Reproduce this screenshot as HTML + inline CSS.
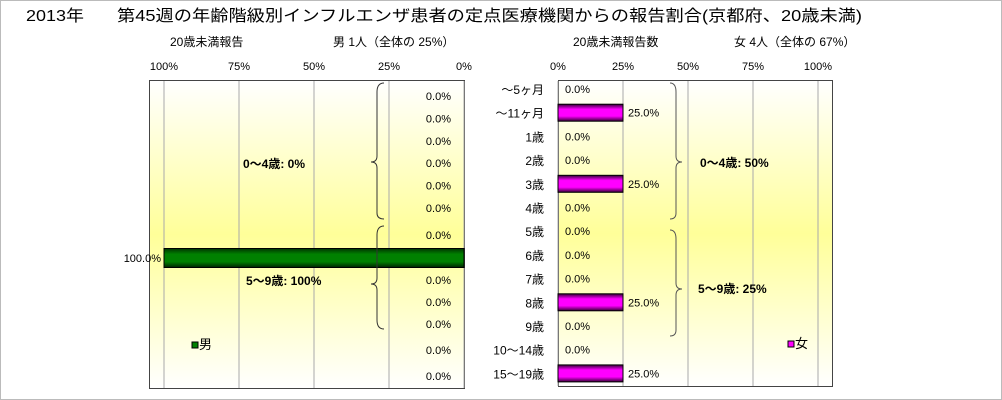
<!DOCTYPE html>
<html><head><meta charset="utf-8"><style>
html,body{margin:0;padding:0;background:#fff;}
svg{display:block;font-family:"Liberation Sans","Noto Sans CJK JP",sans-serif;}
</style></head><body>
<svg id="c" width="1002" height="400" xmlns="http://www.w3.org/2000/svg">
<defs>
<linearGradient id="bg" x1="0" y1="0" x2="0" y2="1">
<stop offset="0" stop-color="#ffffff"/><stop offset="0.5" stop-color="#ffff99"/><stop offset="1" stop-color="#ffffff"/>
</linearGradient>
<linearGradient id="gm" x1="0" y1="0" x2="0" y2="1">
<stop offset="0" stop-color="#003300"/><stop offset="0.3" stop-color="#008000"/><stop offset="0.7" stop-color="#008000"/><stop offset="1" stop-color="#002200"/>
</linearGradient>
<linearGradient id="gf" x1="0" y1="0" x2="0" y2="1">
<stop offset="0" stop-color="#330033"/><stop offset="0.3" stop-color="#ff00ff"/><stop offset="0.7" stop-color="#ff00ff"/><stop offset="1" stop-color="#330033"/>
</linearGradient>
</defs>
<rect x="0.5" y="0.5" width="1001" height="399" fill="#fff" stroke="#bbb"/>
<text x="26" y="21" font-size="16" textLength="58" lengthAdjust="spacingAndGlyphs">2013年</text>
<text x="117" y="21" font-size="16" textLength="745" lengthAdjust="spacingAndGlyphs">第45週の年齢階級別インフルエンザ患者の定点医療機関からの報告割合(京都府、20歳未満)</text>
<text x="170" y="46" font-size="12">20歳未満報告</text>
<text x="333" y="46" font-size="12">男 1人（全体の 25%）</text>
<text x="573" y="46" font-size="12">20歳未満報告数</text>
<text x="734" y="46" font-size="12">女 4人（全体の 67%）</text>
<rect x="149.5" y="80.5" width="315" height="308" fill="url(#bg)" stroke="#444"/>
<rect x="558.5" y="80.5" width="274" height="306" fill="url(#bg)" stroke="#444"/>
<g id="g"></g>
<text x="243" y="168" font-size="12" font-weight="bold">0～4歳:  0%</text>
<text x="246" y="285" font-size="12" font-weight="bold">5～9歳: 100%</text>
<text x="700" y="167" font-size="12" font-weight="bold">0～4歳: 50%</text>
<text x="698" y="293" font-size="12" font-weight="bold">5～9歳: 25%</text>
<path d="M384 83 Q377 83 377 92 L377 156 Q377 162 371 162 Q377 162 377 168 L377 213 Q377 219 384 219" fill="none" stroke="#333"/>
<path d="M384 226 Q377 226 377 235 L377 278 Q377 284 371 284 Q377 284 377 290 L377 320 Q377 329 384 329" fill="none" stroke="#333"/>
<path d="M670 83 Q676 83 676 92 L676 156 Q676 162 682 162 Q676 162 676 168 L676 213 Q676 219 670 219" fill="none" stroke="#555"/>
<path d="M670 230 Q676 230 676 239 L676 283 Q676 289 682 289 Q676 289 676 295 L676 330 Q676 336 670 336" fill="none" stroke="#555"/>
<rect x="192" y="342" width="6" height="6" fill="#008000" stroke="#000"/>
<text x="199" y="349" font-size="13">男</text>
<rect x="788" y="341" width="6" height="6" fill="#ff00ff" stroke="#000"/>
<text x="795" y="348" font-size="13">女</text>
</svg>
<script>
const categories=["～5ヶ月","～11ヶ月","1歳","2歳","3歳","4歳","5歳","6歳","7歳","8歳","9歳","10～14歳","15～19歳"];
const maleValues=[0,0,0,0,0,0,0,100,0,0,0,0,0];
const femaleValues=[0,25,0,0,25,0,0,0,0,25,0,0,25];
const tickValues=[0,25,50,75,100];
const tickLabels=["0%","25%","50%","75%","100%"];
const NS="http://www.w3.org/2000/svg";
const g=document.getElementById('g');
function mk(t,a,txt){const e=document.createElementNS(NS,t);for(const k in a)e.setAttribute(k,a[k]);if(txt!==undefined)e.textContent=txt;g.appendChild(e);return e;}
const xm=v=>464-v*3;
const xf=v=>558+v*2.6;
const yRow=i=>89+i*23.7;
function yMaleLabel(i){
 if(i<6) return 96+i*22.4;
 if(i===6) return 235;
 if(i===7) return 258;
 return 280+(i-8)*22+(i>=11?(i-10)*4:0);
}
tickValues.forEach((v,i)=>{
 let l=mk('line',{x1:xm(v),x2:xm(v),y1:81,y2:388,stroke:'#aaa'});
 
 
 let t=mk('text',{x:xm(v),y:70,'font-size':11,'text-anchor':'middle'},tickLabels[i]);
 
 
 let l2=mk('line',{x1:xf(v),x2:xf(v),y1:81,y2:386,stroke:'#aaa'});
 
 
 let t2=mk('text',{x:xf(v),y:70,'font-size':11,'text-anchor':'middle'},tickLabels[i]);
 
 
});
categories.forEach((c,i)=>{
 const y=yRow(i);
 let ct=mk('text',{x:544,y:y+5,'font-size':12,'text-anchor':'end'},c);
 
 
 const fv=femaleValues[i];
 if(fv>0){
  let b=mk('rect',{x:xf(0),y:y-8.5,width:xf(fv)-xf(0),height:17,fill:'url(#gf)',stroke:'#000'});
  
  
 }
 let fl=mk('text',{x:fv>0?xf(fv)+5:xf(0)+7,y:y+4,'font-size':11},fv.toFixed(1)+'%');
 
 
 const mv=maleValues[i];
 const my=yMaleLabel(i);
 if(mv>0){
  let b=mk('rect',{x:xm(mv),y:my-9.5,width:xm(0)-xm(mv),height:19,fill:'url(#gm)',stroke:'#000'});
  
  
  let ml=mk('text',{x:xm(mv)-3,y:my+4,'font-size':11,'text-anchor':'end'},mv.toFixed(1)+'%');
  
  
 } else {
  let ml=mk('text',{x:451,y:my+4,'font-size':11,'text-anchor':'end'},mv.toFixed(1)+'%');
  
  
 }
});
</script>
</body></html>
